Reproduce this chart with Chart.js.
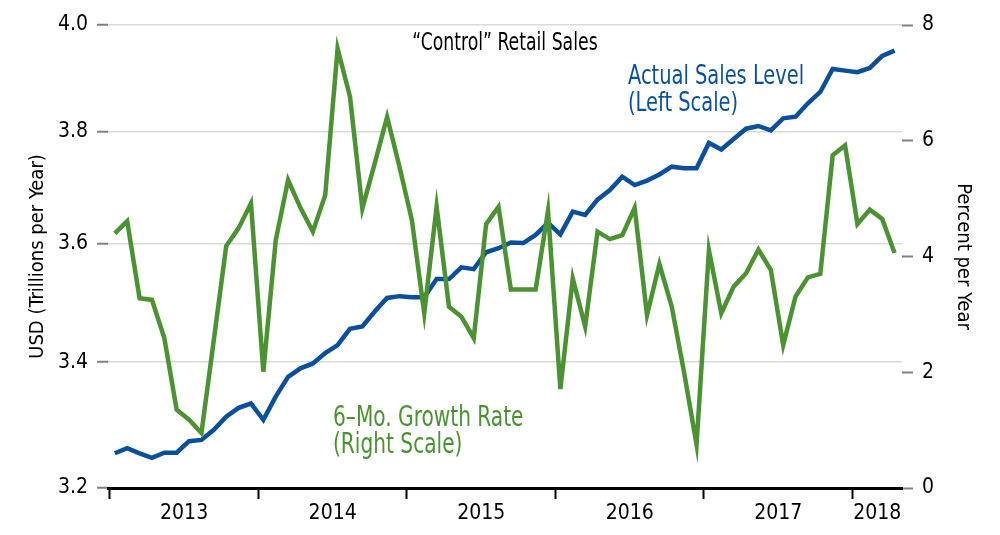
<!DOCTYPE html>
<html>
<head>
<meta charset="utf-8">
<script src="https://cdn.jsdelivr.net/npm/chart.js@4.4.1/dist/chart.umd.min.js"></script>
<style>
  html, body { margin: 0; padding: 0; background: #fff; }
  #wrap { width: 1000px; height: 535px; position: relative; }
</style>
</head>
<body>
<div id="wrap"><canvas id="chart"></canvas></div>
<script>
const FONT = "'Liberation Sans Narrow', 'DejaVu Sans Condensed', sans-serif";
const BLUE = '#0a4f9c';
const GREEN = '#4a9232';

// Monthly, Jan 2013 - Apr 2018
const yearLabels = ['2013', '2014', '2015', '2016', '2017', '2018'];

// USD trillions per year (left, log scale)
const salesLevel = [
  3.254, 3.262, 3.254, 3.247, 3.255, 3.255, 3.273, 3.275, 3.291, 3.312,
  3.326, 3.333, 3.307, 3.344, 3.376, 3.390, 3.398, 3.415, 3.428, 3.455,
  3.459, 3.484, 3.507, 3.510, 3.508, 3.508, 3.539, 3.539, 3.559, 3.556,
  3.585, 3.592, 3.602, 3.601, 3.615, 3.636, 3.616, 3.656, 3.650, 3.677,
  3.694, 3.718, 3.703, 3.711, 3.722, 3.736, 3.733, 3.733, 3.779, 3.767,
  3.786, 3.805, 3.810, 3.802, 3.824, 3.827, 3.852, 3.873, 3.916, 3.913,
  3.910, 3.918, 3.941, 3.951
];

// 6-month growth rate, percent per year (right)
const growthRate = [
  4.40, 4.61, 3.28, 3.25, 2.59, 1.35, 1.18, 0.95, 2.56, 4.18,
  4.49, 4.92, 2.01, 4.28, 5.32, 4.84, 4.43, 5.06, 7.59, 6.76,
  4.83, 5.61, 6.41, 5.55, 4.63, 3.02, 4.86, 3.13, 2.96, 2.59,
  4.56, 4.86, 3.43, 3.43, 3.43, 4.79, 1.71, 3.62, 2.79, 4.43,
  4.30, 4.37, 4.84, 2.99, 3.87, 3.13, 1.99, 0.75, 4.11, 3.02,
  3.48, 3.71, 4.12, 3.77, 2.47, 3.31, 3.64, 3.70, 5.75, 5.92,
  4.56, 4.81, 4.65, 4.06
];

const leftTicks = [3.2, 3.4, 3.6, 3.8, 4.0];
const rightTicks = [0, 2, 4, 6, 8];

// x axis runs in months since Jan 2013
const X_MIN = -0.15, X_MAX = 64;
const yearStarts = yearLabels.map((_, k) => k * 12);
const yearCenters = yearStarts.map(s => (s + Math.min(s + 12, X_MAX)) / 2);
const xTicks = yearStarts.concat(yearCenters).sort((a, b) => a - b);

const toPoints = arr => arr.map((v, i) => ({ x: i + 0.4, y: v }));

const tickFont = { family: FONT, size: 21 };

// condensed-looking text: draw a bit larger, squeeze horizontally
function squeezed(ctx, text, x, y, align) {
  ctx.save();
  ctx.translate(x, y);
  ctx.scale(0.8, 1);
  ctx.textAlign = align;
  ctx.fillText(text, 0, 0);
  ctx.restore();
}

// free-standing labels on the plot
const notes = {
  id: 'notes',
  afterDraw(chart) {
    const ctx = chart.ctx;
    ctx.save();
    ctx.textBaseline = 'middle';

    ctx.font = `24px ${FONT}`;
    ctx.fillStyle = '#000';
    squeezed(ctx, '\u201CControl\u201D Retail Sales', 505, 44, 'center');

    ctx.font = `27px ${FONT}`;
    ctx.fillStyle = BLUE;
    squeezed(ctx, 'Actual Sales Level', 628, 77, 'left');
    squeezed(ctx, '(Left Scale)', 628, 104, 'left');

    ctx.font = `28px ${FONT}`;
    ctx.fillStyle = GREEN;
    squeezed(ctx, '6\u2013Mo. Growth Rate', 333, 419, 'left');
    squeezed(ctx, '(Right Scale)', 333, 446, 'left');
    ctx.restore();
  }
};

new Chart(document.getElementById('chart'), {
  type: 'line',
  data: {
    datasets: [
      {
        label: '6-Mo. Growth Rate',
        data: toPoints(growthRate),
        borderColor: GREEN,
        borderWidth: 4.5,
        pointRadius: 0,
        tension: 0,
        yAxisID: 'y1',
        order: 0,
      },
      {
        label: 'Actual Sales Level',
        data: toPoints(salesLevel),
        borderColor: BLUE,
        borderWidth: 4.5,
        pointRadius: 0,
        tension: 0,
        yAxisID: 'y',
        order: 1,
      }
    ]
  },
  options: {
    responsive: true,
    maintainAspectRatio: false,
    animation: false,
    layout: { padding: { top: 25, left: 0, right: 0, bottom: 0 } },
    plugins: {
      legend: { display: false },
      tooltip: { enabled: false },
    },
    scales: {
      x: {
        type: 'linear',
        min: X_MIN,
        max: X_MAX,
        afterBuildTicks: s => { s.ticks = xTicks.map(v => ({ value: v })); },
        afterFit: s => { s.height = 47; },
        grid: {
          drawOnChartArea: false,
          tickLength: 11,
          tickWidth: 2,
          tickColor: c => yearStarts.includes(c.tick && c.tick.value) ? '#000' : 'rgba(0,0,0,0)',
        },
        border: { color: '#000', width: 3 },
        ticks: {
          autoSkip: false,
          maxRotation: 0,
          padding: 2,
          color: '#000',
          font: tickFont,
          callback: v => {
            const k = yearCenters.indexOf(v);
            return k >= 0 ? yearLabels[k] : '';
          }
        }
      },
      y: {
        type: 'logarithmic',
        position: 'left',
        min: 3.2,
        max: 4.0,
        afterBuildTicks: s => { s.ticks = leftTicks.map(v => ({ value: v })); },
        afterFit: s => { s.width = 108; },
        grid: {
          color: c => (c.tick && c.tick.value === 3.2) ? 'rgba(0,0,0,0)' : '#d9d9d9',
          lineWidth: 1.5,
          tickColor: '#808080',
          tickLength: 11,
          tickWidth: 2,
        },
        border: { display: false },
        ticks: {
          color: '#000',
          padding: 9,
          font: tickFont,
          callback: v => Number(v).toFixed(1)
        },
        title: {
          display: true,
          text: 'USD (Trillions per Year)',
          color: '#000',
          font: { family: FONT, size: 20 },
          padding: { top: 26, bottom: 0 }
        }
      },
      y1: {
        type: 'linear',
        position: 'right',
        min: 0,
        max: 8,
        afterBuildTicks: s => { s.ticks = rightTicks.map(v => ({ value: v })); },
        afterFit: s => { s.width = 98; },
        grid: {
          drawOnChartArea: false,
          tickColor: '#808080',
          tickLength: 11,
          tickWidth: 2,
        },
        border: { display: false },
        ticks: {
          color: '#000',
          padding: 9,
          font: tickFont,
        },
        title: {
          display: true,
          text: 'Percent per Year',
          color: '#000',
          font: { family: FONT, size: 20 },
          padding: { top: 25, bottom: 0 }
        }
      }
    }
  },
  plugins: [notes]
});
</script>
</body>
</html>
